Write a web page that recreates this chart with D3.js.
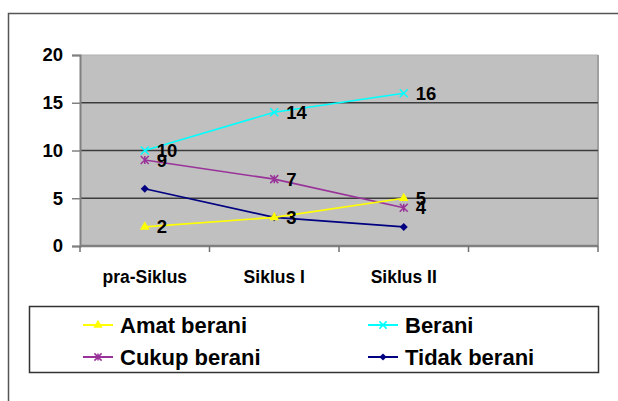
<!DOCTYPE html>
<html><head><meta charset="utf-8">
<script src="https://cdn.jsdelivr.net/npm/d3@7"></script>
<style>body{margin:0;background:#fff}svg{display:block;font-family:Arial,"Liberation Sans",sans-serif;font-weight:bold}</style>
</head><body>
<script>
const categories = ["pra-Siklus", "Siklus I", "Siklus II", ""];
const seriesNames = ["Amat berani", "Berani", "Cukup berani", "Tidak berani"];
const amatBerani = [2, 3, 5];
const berani = [10, 14, 16];
const cukupBerani = [9, 7, 4];
const tidakBerani = [6, 3, 2];
const yTicks = [0, 5, 10, 15, 20];

const W = 618, H = 401;
const svg = d3.select("body").append("svg").attr("width", W).attr("height", H);

// outer chart border
svg.append("rect").attr("x", 8.5).attr("y", 13.5).attr("width", 700).attr("height", 500)
  .attr("fill", "#fff").attr("stroke", "#555").attr("stroke-width", 1.5);

const L = 80, R = 598, T = 55, B = 246;
const x = d3.scaleBand().domain(categories.map((c, i) => i)).range([L, R]);
const y = d3.scaleLinear().domain([0, 20]).range([B, T]);

svg.append("rect").attr("x", L).attr("y", T).attr("width", R - L).attr("height", B - T)
  .attr("fill", "#c0c0c0");
svg.append("line").attr("x1", L).attr("x2", R).attr("y1", T).attr("y2", T).attr("stroke", "#b0b0b0").attr("stroke-width", 1);
svg.append("line").attr("x1", R).attr("x2", R).attr("y1", T).attr("y2", B).attr("stroke", "#a0a0a0").attr("stroke-width", 2);

// gridlines
svg.append("g").selectAll("line").data(yTicks.filter(v => v > 0 && v < 20)).join("line")
  .attr("x1", L).attr("x2", R).attr("y1", d => y(d)).attr("y2", d => y(d))
  .attr("stroke", "#3c3c3c").attr("stroke-width", 1.6);

// y axis
const yAxis = d3.axisLeft(y).tickValues(yTicks).tickSize(8).tickPadding(9);
const gy = svg.append("g").attr("transform", `translate(${L},0)`).call(yAxis);
gy.select(".domain").attr("stroke", "#808080").attr("stroke-width", 2);
gy.selectAll(".tick line").attr("stroke", "#808080").attr("stroke-width", 1.5);
gy.selectAll("text").attr("font-size", 18.5).attr("font-weight", "bold").attr("fill", "#000")
  .attr("font-family", "Arial, 'Liberation Sans', sans-serif");

// x axis
const xTickPos = d3.range(categories.length + 1).map(i => L + i * x.step());
const gx = svg.append("g");
gx.append("line").attr("x1", L).attr("x2", R).attr("y1", B).attr("y2", B)
  .attr("stroke", "#808080").attr("stroke-width", 2.5);
gx.selectAll("line.tk").data(xTickPos).join("line").attr("class", "tk")
  .attr("x1", d => d).attr("x2", d => d).attr("y1", B).attr("y2", B + 6)
  .attr("stroke", "#707070").attr("stroke-width", 1.5);
gx.selectAll("text").data(categories).join("text")
  .attr("x", (d, i) => x(i) + x.bandwidth() / 2).attr("y", 283)
  .attr("text-anchor", "middle").attr("font-size", 17.5).attr("fill", "#000").text(d => d);

const series = [
  {name: seriesNames[0], values: amatBerani, color: "#ffff00", marker: "tri", labels: true},
  {name: seriesNames[1], values: berani, color: "#00ffff", marker: "x", labels: true},
  {name: seriesNames[2], values: cukupBerani, color: "#993399", marker: "star", labels: true},
  {name: seriesNames[3], values: tidakBerani, color: "#000080", marker: "dia", labels: false}
];

function drawMarker(g, type, cx, cy, color, s) {
  s = s || 1;
  if (type === "tri") {
    g.append("path").attr("d", d3.symbol(d3.symbolTriangle, 40 * s)()).attr("transform", `translate(${cx},${cy})`).attr("fill", color);
  } else if (type === "dia") {
    g.append("path").attr("d", `M${cx},${cy - 4 * s}L${cx + 4 * s},${cy}L${cx},${cy + 4 * s}L${cx - 4 * s},${cy}Z`).attr("fill", color);
  } else if (type === "x" || type === "star") {
    const r = 4 * s;
    g.append("path").attr("d", `M${cx - r},${cy - r}L${cx + r},${cy + r}M${cx - r},${cy + r}L${cx + r},${cy - r}` + (type === "star" ? `M${cx},${cy - r}L${cx},${cy + r}` : ""))
      .attr("stroke", color).attr("stroke-width", 1.5).attr("fill", "none");
  }
}

const line = d3.line().x((d, i) => x(i) + x.bandwidth() / 2).y(d => y(d));
const order = [3, 2, 0, 1];
order.forEach(k => {
  const s = series[k];
  const g = svg.append("g");
  g.append("path").datum(s.values).attr("d", line).attr("fill", "none").attr("stroke", s.color).attr("stroke-width", 1.6);
  s.values.forEach((v, i) => drawMarker(g, s.marker, x(i) + x.bandwidth() / 2, y(v), s.color));
});
// data labels
series.forEach(s => {
  if (!s.labels) return;
  svg.append("g").selectAll("text").data(s.values).join("text")
    .attr("x", (d, i) => x(i) + x.bandwidth() / 2 + 12).attr("y", d => y(d) + 6.5)
    .attr("font-size", 18.5).attr("fill", "#000").text(d => d);
});

// legend
const lg = svg.append("g");
lg.append("rect").attr("x", 29.5).attr("y", 306.5).attr("width", 569).attr("height", 66)
  .attr("fill", "#fff").attr("stroke", "#333").attr("stroke-width", 1.5);
const legPos = [[83, 325], [368, 325], [83, 357], [368, 357]];
series.forEach((s, k) => {
  const [lx, ly] = legPos[k];
  lg.append("line").attr("x1", lx).attr("x2", lx + 30).attr("y1", ly).attr("y2", ly)
    .attr("stroke", s.color).attr("stroke-width", 2);
  drawMarker(lg, s.marker, lx + 15, ly, s.color, 0.9);
  lg.append("text").attr("x", lx + 37).attr("y", ly + 8).attr("font-size", 22).attr("fill", "#000").text(s.name);
});
</script>
</body></html>
